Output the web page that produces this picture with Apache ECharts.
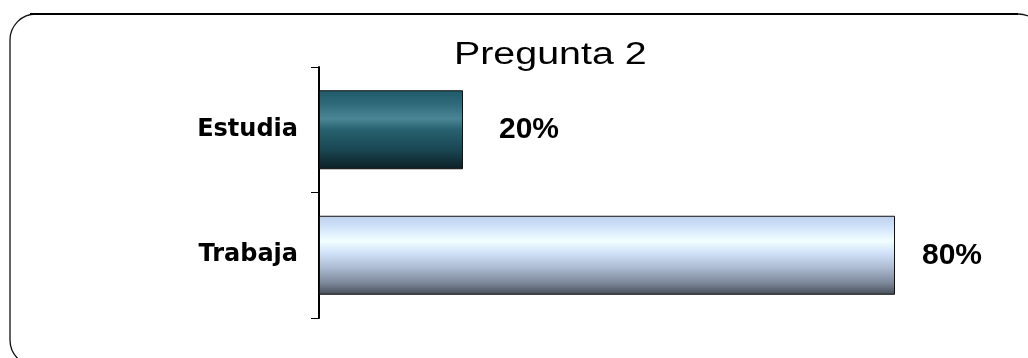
<!DOCTYPE html>
<html>
<head>
<meta charset="utf-8">
<script src="https://cdn.jsdelivr.net/npm/echarts@6/dist/echarts.min.js"></script>
<style>
html,body{margin:0;padding:0;background:#fff;}
#chart{width:1028px;height:358px;}
</style>
</head>
<body>
<div id="chart"></div>
<script>
var titleText = 'Pregunta 2';
var categories = ['Estudia', 'Trabaja'];
var values = [20, 80];
var valueLabels = ['20%', '80%'];

var barStyles = [
  new echarts.graphic.LinearGradient(0, 0, 0, 1, [
    {offset: 0, color: '#1f5a69'},
    {offset: 0.18, color: '#2f6b7a'},
    {offset: 0.36, color: '#4a8695'},
    {offset: 0.5, color: '#27616f'},
    {offset: 0.75, color: '#1a4753'},
    {offset: 1, color: '#0c1f24'}
  ]),
  new echarts.graphic.LinearGradient(0, 0, 0, 1, [
    {offset: 0, color: '#bcd0ec'},
    {offset: 0.15, color: '#d2e4fb'},
    {offset: 0.32, color: '#f2ffff'},
    {offset: 0.48, color: '#cfe0f7'},
    {offset: 0.65, color: '#aebdd2'},
    {offset: 0.85, color: '#7d889a'},
    {offset: 1, color: '#454c58'}
  ])
];
var labelDistances = [36, 27];

var chart = echarts.init(document.getElementById('chart'), null, {renderer: 'canvas'});
var seriesData = values.map(function (v, i) {
  return {
    value: v,
    itemStyle: {color: barStyles[i]},
    label: {distance: labelDistances[i], formatter: valueLabels[i]}
  };
});

chart.setOption({
  animation: false,
  backgroundColor: '#ffffff',
  graphic: [
    {
      type: 'rect',
      shape: {x: 10, y: 14, width: 1034, height: 352, r: 26},
      style: {fill: 'none', stroke: '#111', lineWidth: 1.3},
      silent: true
    },
    {
      type: 'line',
      shape: {x1: 30, y1: 14, x2: 1018, y2: 14},
      style: {stroke: '#000', lineWidth: 2.2},
      silent: true
    },
    {
      type: 'text',
      x: 454,
      y: 55,
      scaleX: 1.27,
      style: {
        text: titleText,
        font: '31px "Liberation Sans", Arial, sans-serif',
        fill: '#000',
        align: 'left',
        verticalAlign: 'middle'
      },
      silent: true
    }
  ],
  grid: {left: 319, right: 133, top: 67, bottom: 40, containLabel: false},
  xAxis: {
    type: 'value',
    min: 0,
    max: 80,
    show: false
  },
  yAxis: {
    type: 'category',
    data: categories,
    inverse: true,
    boundaryGap: true,
    axisLine: {show: true, lineStyle: {color: '#000', width: 2}},
    axisTick: {show: true, length: 8, lineStyle: {color: '#000', width: 1}},
    axisLabel: {
      margin: 21,
      color: '#000',
      fontFamily: '"DejaVu Sans", sans-serif',
      fontWeight: 'bold',
      fontSize: 24
    },
    splitLine: {show: false}
  },
  series: [{
    type: 'bar',
    data: seriesData,
    barWidth: 79,
    itemStyle: {borderColor: '#111', borderWidth: 1},
    label: {
      show: true,
      position: 'right',
      color: '#000',
      fontFamily: '"Liberation Sans", Arial, sans-serif',
      fontWeight: 'bold',
      fontSize: 30
    }
  }]
});
</script>
</body>
</html>
